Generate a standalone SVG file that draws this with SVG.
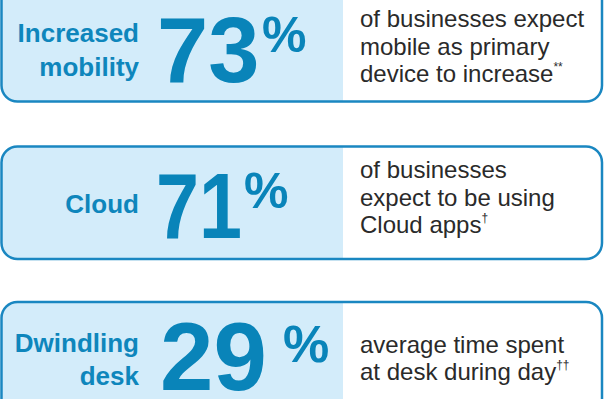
<svg xmlns="http://www.w3.org/2000/svg" width="608" height="399" viewBox="0 0 608 399">
<style>
.bg{fill:#ffffff}
.tint{fill:#d3ecfa}
.border{fill:none;stroke:#1a87c1;stroke-width:2.5}
.big{font-family:"Liberation Sans",Arial,sans-serif;font-weight:bold;fill:#0984b9}
.lbl{font-family:"Liberation Sans",Arial,sans-serif;font-weight:bold;font-size:26px;fill:#0e86bc;text-anchor:end}
.desc{font-family:"Liberation Sans",Arial,sans-serif;font-size:24px;fill:#2a2a2a}
.sup{font-size:12px}
</style>
<defs>
<clipPath id="c1"><rect x="1.5" y="-30" width="600.5" height="131.5" rx="16"/></clipPath>
<clipPath id="c2"><rect x="1.5" y="146.5" width="600.5" height="112.5" rx="16"/></clipPath>
<clipPath id="c3"><rect x="1.5" y="302" width="600.5" height="130" rx="16"/></clipPath>
</defs>

<g id="card-mobility">
<rect class="bg" x="1.5" y="-30" width="600.5" height="131.5" rx="16"/>
<rect class="tint" x="0" y="-30" width="343" height="140" clip-path="url(#c1)"/>
<rect class="border" x="1.5" y="-30" width="600.5" height="131.5" rx="16"/>
<text class="lbl" x="139" y="42">Increased</text>
<text class="lbl" x="139" y="76">mobility</text>
<text class="big" x="157" y="82" font-size="92">73</text>
<text class="big" x="262" y="52" font-size="50">%</text>
<text class="desc" x="360" y="27">of businesses expect</text>
<text class="desc" x="360" y="55">mobile as primary</text>
<text class="desc" x="360" y="82">device to increase<tspan class="sup" dy="-11">**</tspan></text>
</g>

<g id="card-cloud">
<rect class="bg" x="1.5" y="146.5" width="600.5" height="112.5" rx="16"/>
<rect class="tint" x="0" y="140" width="343" height="130" clip-path="url(#c2)"/>
<rect class="border" x="1.5" y="146.5" width="600.5" height="112.5" rx="16"/>
<text class="lbl" x="139" y="213">Cloud</text>
<text class="big" x="156" y="238" font-size="92" textLength="86" lengthAdjust="spacingAndGlyphs">71</text>
<text class="big" x="244" y="208" font-size="50">%</text>
<text class="desc" x="360" y="178">of businesses</text>
<text class="desc" x="360" y="205.5">expect to be using</text>
<text class="desc" x="360" y="233">Cloud apps<tspan class="sup" dy="-11">†</tspan></text>
</g>

<g id="card-desk">
<rect class="bg" x="1.5" y="302" width="600.5" height="130" rx="16"/>
<rect class="tint" x="0" y="295" width="343" height="140" clip-path="url(#c3)"/>
<rect class="border" x="1.5" y="302" width="600.5" height="130" rx="16"/>
<text class="lbl" x="139" y="352">Dwindling</text>
<text class="lbl" x="139" y="385">desk</text>
<text class="big" x="160" y="390" font-size="96">29</text>
<text class="big" x="283" y="362" font-size="52">%</text>
<text class="desc" x="360" y="353">average time spent</text>
<text class="desc" x="360" y="380">at desk during day<tspan class="sup" dy="-11">††</tspan></text>
</g>
</svg>
